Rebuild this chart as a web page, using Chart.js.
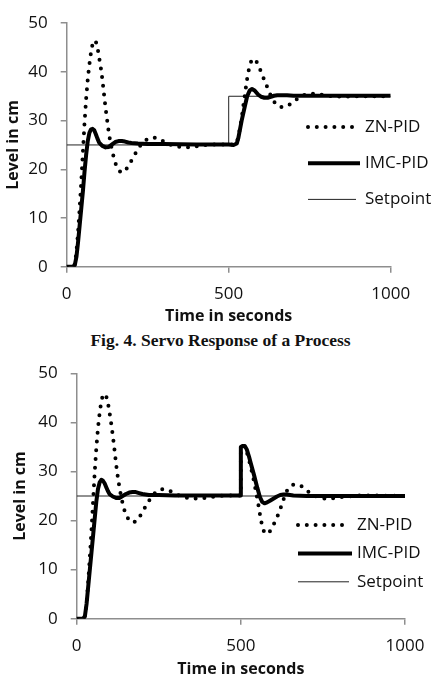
<!DOCTYPE html>
<html>
<head>
<meta charset="utf-8">
<script src="https://cdn.jsdelivr.net/npm/chart.js@4.4.1/dist/chart.umd.min.js"></script>
<style>
  body { margin: 0; background: #fff; }
  #page { position: relative; width: 441px; height: 683px; }
  .box { position: absolute; left: 0; width: 441px; }
  #caption {
    position: absolute; left: 0; top: 331px; width: 441px;
    text-align: center; font: bold 17.5px/18px 'Liberation Serif', 'Times New Roman', serif; color: #111;
  }
</style>
</head>
<body>
<div id="page">
  <div class="box" style="top:0;height:330px"><canvas id="servoChart"></canvas></div>
  <div id="caption">Fig. 4. Servo Response of a Process</div>
  <div class="box" style="top:350px;height:333px"><canvas id="regChart"></canvas></div>
</div>
<script>
'use strict';

// --- top chart: servo response (setpoint change 25 -> 35 at t = 500) ---
const znTopT = [0,20,25,30,35,40,45,50,55,60,65,70,75,80,85,90,95,100,105,110,115,120,125,130,135,140,145,150,160,170,180,190,200,210,220,230,240,250,260,275,290,300,315,330,350,375,400,430,460,500,520,525,530,535,540,545,550,555,560,565,570,575,580,585,590,600,610,620,630,640,650,660,670,680,690,700,710,720,730,745,765,790,820,850,900,1000];
const znTopV = [0,0,0.5,3,7,12,17.5,23.5,29.5,34.5,38.5,41.5,44,45.8,46.5,46.2,45,43,41,38.5,35.5,32.5,30,27.5,25.5,24,22.5,21.3,19.8,19.3,19.7,20.6,21.8,23,24.2,25.1,25.8,26.2,26.5,26.5,26.1,25.7,25.2,24.8,24.6,24.5,24.7,25,25.1,25.1,25.1,25.5,26.8,28.5,30.5,33,35.3,37.8,39.8,41.3,42.3,42.7,42.6,42.2,41.6,40,38.3,36.7,35.1,33.9,33.1,32.8,32.8,33,33.4,33.9,34.4,34.9,35.2,35.5,35.5,35.3,35,34.9,35,35];

const imcTopT = [0,20,25,30,35,40,45,50,55,60,65,70,75,80,85,90,95,100,110,120,130,140,150,160,170,180,190,200,220,250,300,400,500,515,525,530,540,550,557,565,572,580,590,600,610,620,630,640,650,660,680,700,800,1000];
const imcTopV = [0,0,0.3,2,5,8.5,12,15.5,19.5,23,25.8,27.5,28.2,28.3,28,27.2,26.3,25.5,24.8,24.5,24.6,25.1,25.6,25.8,25.8,25.7,25.5,25.4,25.3,25.2,25.2,25.1,25.1,25,25.3,26.5,30,33,35,36.2,36.5,36.2,35.4,34.9,34.7,34.7,34.9,35.1,35.2,35.2,35.2,35.1,35.1,35.1];

const spTopT = [0,500,500,1000];
const spTopV = [25,25,35,35];

// --- bottom chart: regulatory response (disturbance at t = 500) ---
const znBotT = [0,20,25,30,35,40,45,50,55,60,65,70,75,80,85,90,95,100,105,110,115,120,125,130,135,140,145,150,160,170,180,190,200,210,220,230,240,250,260,270,285,300,315,330,350,375,400,430,460,500,500,505,512,518,525,530,540,548,555,560,565,572,580,590,600,610,620,630,640,650,660,675,690,700,710,725,745,765,790,820,860,900,1000];
const znBotV = [0,0,0.5,3,7.5,12.5,18,24,30,35,39,42,44.3,45.6,45.8,45.3,44,42,39.8,37.3,34.5,31.5,29,26.8,25,23.5,22.2,21.2,20,19.6,19.8,20.6,21.7,22.9,24,25,25.7,26.2,26.4,26.4,26,25.5,25,24.7,24.5,24.5,24.7,25,25.1,25.1,35,35.2,35,34,32.3,31,28,25.2,22.6,20.5,18.9,17.4,17.3,17.9,19.2,20.6,22.3,24.3,26,26.9,27.3,27.3,26.8,26.2,25.6,25,24.6,24.4,24.6,24.9,25.1,25.1,25];

const imcBotT = [0,20,25,30,35,40,45,50,55,60,65,70,75,80,85,90,95,100,110,120,130,140,150,160,170,180,190,200,220,250,300,400,500,500,505,512,518,525,530,540,550,558,565,572,580,590,600,610,620,630,640,660,700,1000];
const imcBotV = [0,0,0.5,3,6.5,10,13.5,17,20.5,24,26.5,27.8,28.3,28.1,27.6,26.8,26,25.4,24.9,24.6,24.6,25,25.4,25.7,25.8,25.8,25.6,25.4,25.2,25.2,25.1,25.1,25.1,35,35.2,35.2,34.5,33,31.7,29.3,26.7,24.8,23.8,23.5,23.7,24.1,24.5,24.9,25.2,25.3,25.3,25.1,25,25];

const spBotT = [0,1000];
const spBotV = [25,25];

const seriesNames = ['ZN-PID', 'IMC-PID', 'Setpoint'];
const xTicks = [0, 500, 1000];
const yTicks = [0, 10, 20, 30, 40, 50];

const FONT = "'Open Sans', 'DejaVu Sans', sans-serif";
const AXIS_GREY = '#8e8e8e';

function pts( t, v ) {
  return t.map( ( x, i ) => ( { x: x, y: v[i] } ) );
}

// legend drawn inside the plot, like the original
const lineLegend = {
  id: 'lineLegend',
  afterDraw( chart, args, opts ) {
    const ctx = chart.ctx;
    ctx.save();
    chart.data.datasets.forEach( ( ds, i ) => {
      const y = opts.y + i * opts.gap;
      ctx.beginPath();
      ctx.strokeStyle = ds.borderColor;
      ctx.lineWidth = ds.borderWidth;
      ctx.lineCap = ds.borderCapStyle || 'butt';
      ctx.setLineDash( ds.borderDash || [] );
      ctx.moveTo( opts.x, y );
      ctx.lineTo( opts.x + opts.len[i], y );
      ctx.stroke();
      ctx.setLineDash( [] );
      ctx.fillStyle = '#111';
      ctx.font = '17px ' + FONT;
      ctx.textBaseline = 'middle';
      ctx.fillText( ds.label, opts.textX, y );
    } );
    ctx.restore();
  }
};

function makeChart( id, zn, imc, sp, box ) {
  const ctx = document.getElementById( id ).getContext( '2d' );
  return new Chart( ctx, {
    type: 'line',
    data: {
      datasets: [{
        label: seriesNames[0],
        data: zn,
        borderColor: '#000',
        borderWidth: 4,
        borderDash: [0, 8.8],
        borderCapStyle: 'round',
        order: 1
      }, {
        label: seriesNames[1],
        data: imc,
        borderColor: '#000',
        borderWidth: 4,
        borderJoinStyle: 'round',
        order: 0
      }, {
        label: seriesNames[2],
        data: sp,
        borderColor: '#222',
        borderWidth: 1,
        order: 2
      }]
    },
    options: {
      responsive: true,
      maintainAspectRatio: false,
      animation: false,
      elements: { point: { radius: 0 }, line: { tension: 0 } },
      layout: { padding: { left: 0, right: box.right, top: box.top, bottom: 0 } },
      plugins: {
        legend: { display: false },
        tooltip: { enabled: false },
        lineLegend: box.legend
      },
      scales: {
        x: {
          type: 'linear',
          min: 0,
          max: 1000,
          afterBuildTicks: ( s ) => { s.ticks = xTicks.map( v => ( { value: v } ) ); },
          afterFit: ( s ) => { s.height = box.xh; },
          ticks: { font: { family: FONT, size: 17 }, color: '#111', padding: 11, maxRotation: 0, callback: ( v ) => String( v ) },
          grid: { drawOnChartArea: false, drawTicks: true, tickLength: 6, color: AXIS_GREY, lineWidth: 1.5 },
          border: { color: AXIS_GREY, width: 1.5 },
          title: { display: true, text: 'Time in seconds', color: '#111', font: { family: FONT, size: 16, weight: 'bold' }, padding: { top: 0, bottom: 3.5 } }
        },
        y: {
          min: 0,
          max: 50,
          afterBuildTicks: ( s ) => { s.ticks = yTicks.map( v => ( { value: v } ) ); },
          afterFit: ( s ) => { s.width = box.yw; },
          ticks: { font: { family: FONT, size: 17 }, color: '#111', padding: 13, callback: ( v ) => String( v ) },
          grid: { drawOnChartArea: false, drawTicks: true, tickLength: 6, color: AXIS_GREY, lineWidth: 1.5 },
          border: { color: AXIS_GREY, width: 1.5 },
          title: { display: true, text: 'Level in cm', color: '#111', font: { family: FONT, size: 16, weight: 'bold' }, padding: { top: box.ytp, bottom: 0 } }
        }
      }
    },
    plugins: [lineLegend]
  } );
}

makeChart( 'servoChart', pts( znTopT, znTopV ), pts( imcTopT, imcTopV ), pts( spTopT, spTopV ), {
  right: 50.3, top: 17.3, xh: 63.3, yw: 66.7, ytp: 3.7,
  legend: { x: 308, textX: 365, y: 127, gap: 36.2, len: [45, 52, 48] }
} );

makeChart( 'regChart', pts( znBotT, znBotV ), pts( imcBotT, imcBotV ), pts( spBotT, spBotV ), {
  right: 36, top: 23.3, xh: 64.3, yw: 76.7, ytp: 10.4,
  legend: { x: 298, textX: 357, y: 175, gap: 28.4, len: [45, 54, 51] }
} );
</script>
</body>
</html>
